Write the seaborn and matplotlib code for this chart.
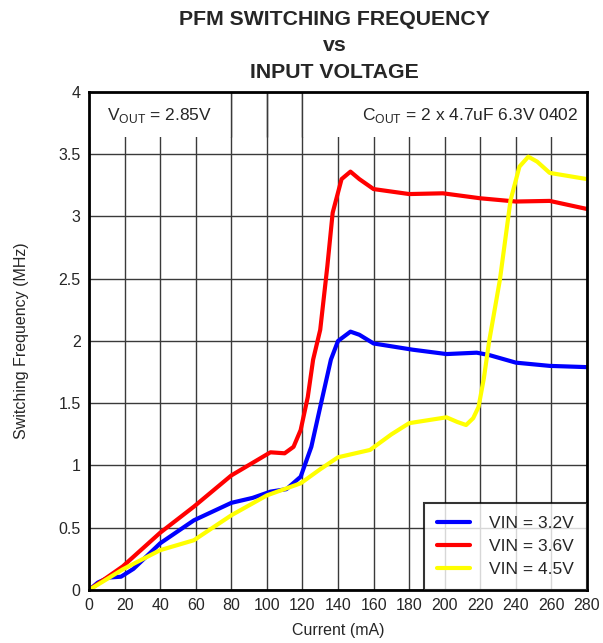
import pandas as pd
import matplotlib
matplotlib.use('Agg')
import matplotlib.pyplot as plt
import seaborn as sns
from matplotlib.patches import Rectangle

# valores (corrente em mA, frequência em MHz)
x_32 = [0, 5, 11, 18, 25, 40, 59, 80, 92, 102, 111, 119, 125, 130, 136, 140, 147, 152, 160, 182, 201, 218, 225, 240, 259, 280]
f_32 = [0, 0.06, 0.10, 0.107, 0.17, 0.375, 0.56, 0.70, 0.74, 0.79, 0.81, 0.91, 1.15, 1.47, 1.85, 2.0, 2.075, 2.05, 1.98, 1.93, 1.895, 1.906, 1.887, 1.826, 1.80, 1.79]

x_36 = [0, 19, 40, 59, 80, 102, 110, 115, 119, 123, 126, 130, 134, 137, 142, 147, 152, 160, 180, 199, 220, 240, 259, 280]
f_36 = [0, 0.19, 0.46, 0.67, 0.92, 1.106, 1.098, 1.15, 1.285, 1.55, 1.85, 2.09, 2.6, 3.03, 3.3, 3.36, 3.3, 3.22, 3.18, 3.186, 3.146, 3.12, 3.125, 3.06]

x_45 = [0, 19, 40, 59, 80, 100, 119, 130, 140, 158, 170, 180, 201, 207, 212, 216, 219, 222, 225, 231, 237, 242, 247, 252, 259, 280]
f_45 = [0, 0.166, 0.32, 0.40, 0.60, 0.76, 0.857, 0.97, 1.066, 1.125, 1.25, 1.34, 1.387, 1.35, 1.325, 1.38, 1.47, 1.7, 2.0, 2.49, 3.13, 3.40, 3.48, 3.44, 3.35, 3.30]

series = ['VIN = 3.2V', 'VIN = 3.6V', 'VIN = 4.5V']
cores = ['#0000ff', '#ff0000', '#ffff00']

df = pd.concat([
    pd.DataFrame({'Current (mA)': x_32, 'freq': f_32, 'serie': series[0]}),
    pd.DataFrame({'Current (mA)': x_36, 'freq': f_36, 'serie': series[1]}),
    pd.DataFrame({'Current (mA)': x_45, 'freq': f_45, 'serie': series[2]}),
])

sns.set_style('white')
plt.rcParams['font.family'] = ['Liberation Sans', 'DejaVu Sans']
plt.rcParams['mathtext.fontset'] = 'custom'
plt.rcParams['mathtext.rm'] = 'Liberation Sans'

fig = plt.figure(figsize=(6.03, 6.43), dpi=100)
ax = fig.add_axes([0.1476, 0.0824, 0.8259, 0.7746])

sns.lineplot(data=df, x='Current (mA)', y='freq', hue='serie', palette=cores,
             linewidth=3, sort=False, estimator=None, ax=ax, zorder=3)

ax.set_xlim(0, 280)
ax.set_ylim(0, 4)
ax.set_xticks(range(0, 281, 20))
ax.set_yticks([0, 0.5, 1, 1.5, 2, 2.5, 3, 3.5, 4])
ax.set_yticklabels(['0', '0.5', '1', '1.5', '2', '2.5', '3', '3.5', '4'])
ax.grid(True, color='#3a3a3a', linewidth=1.0, zorder=1)
ax.set_axisbelow(True)
ax.tick_params(labelsize=11.5, length=0, pad=6)
ax.set_xlabel('Current (mA)', fontsize=11.5, labelpad=7)
ax.set_ylabel('Switching Frequency (MHz)', fontsize=11.5, labelpad=21)
for s in ax.spines.values():
    s.set_color('black')
    s.set_linewidth(2)
    s.set_zorder(5)

# faixa branca das anotações no topo (grade só entre 80 e 120 mA)
ax.add_patch(Rectangle((0, 3.64), 80, 0.36, facecolor='white', edgecolor='none', zorder=2))
ax.add_patch(Rectangle((120, 3.64), 160, 0.36, facecolor='white', edgecolor='none', zorder=2))
ax.vlines([80, 100, 120], 3.64, 4, color='#3a3a3a', linewidth=1.0, zorder=2.5)
ax.text(0.036, 0.972, r'V$_{\mathregular{OUT}}$ = 2.85V', transform=ax.transAxes,
        fontsize=12.5, ha='left', va='top', zorder=4)
ax.text(0.982, 0.972, r'C$_{\mathregular{OUT}}$ = 2 x 4.7uF 6.3V 0402', transform=ax.transAxes,
        fontsize=12.5, ha='right', va='top', zorder=4)

leg = ax.legend(loc='lower right', borderaxespad=0, fontsize=12.5, frameon=True,
                fancybox=False, handlelength=1.9, handletextpad=1.1,
                borderpad=0.75, labelspacing=0.45)
leg.get_frame().set_edgecolor('black')
leg.get_frame().set_linewidth(1.5)
leg.set_title(None)
leg.set_zorder(6)

fig.text(0.555, 0.985, 'PFM SWITCHING FREQUENCY\nvs\nINPUT VOLTAGE', ha='center', va='top',
         fontsize=15.3, fontweight='bold', linespacing=1.5)

plt.savefig('out.png', dpi=100)
